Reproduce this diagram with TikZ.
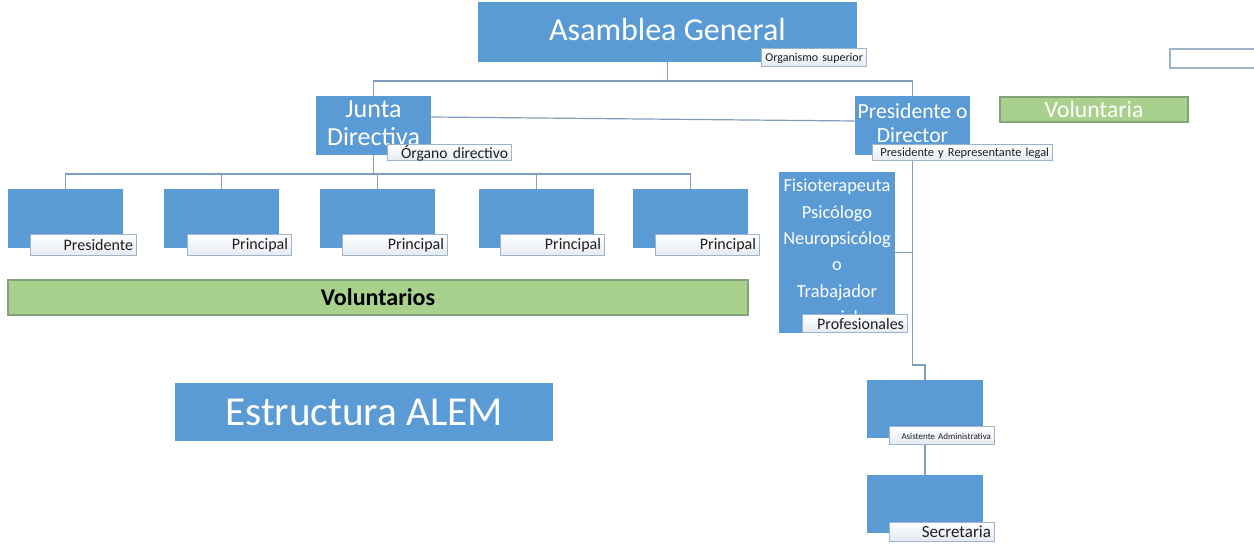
\documentclass[tikz,border=0pt]{standalone}
\usepackage{fontspec}
\setmainfont{Carlito}
\definecolor{boxblue}{HTML}{5B9BD5}
\definecolor{linec}{HTML}{7F9DBE}
\definecolor{labc}{HTML}{9DB4CA}
\definecolor{labb}{HTML}{E4EAF1}
\definecolor{greenf}{HTML}{A9D18E}
\definecolor{greend}{HTML}{84A37A}
\newcommand\mltext[2]{\raisebox{#1}{\begin{tabular}{@{}c@{}}#2\end{tabular}}}
\tikzset{
  bluebox/.style={fill=boxblue, draw=none, inner sep=0pt, text=white, align=center},
  greenbox/.style={fill=greenf, draw=greend, line width=0.6pt, inner sep=0pt},
  lab/.style={draw=labc, line width=0.5pt, top color=white, bottom color=labb,
    inner xsep=1.5pt, inner ysep=0pt, align=right, text=black!88},
  conn/.style={draw=linec, line width=0.6pt},
}
\begin{document}
\begin{tikzpicture}[x=0.5pt,y=-0.5pt]
\useasboundingbox (0,0) rectangle (1254,545);
% ---- blue boxes ----
\node[bluebox, minimum width=189.5pt, minimum height=30pt, font=\fontsize{16}{19}\selectfont] (A) at (667.5,32) {\raisebox{2.5pt}{Asamblea General}};
\node[bluebox, minimum width=57.5pt, minimum height=29.5pt, font=\fontsize{13}{14}\selectfont] (J) at (373.5,125.5) {\mltext{2.2pt}{Junta\\Directiva}};
\node[bluebox, minimum width=57.5pt, minimum height=29.5pt, font=\fontsize{10.8}{12}\selectfont] (P) at (912.5,125.5) {\mltext{2.2pt}{Presidente o\\Director}};
\node[bluebox, minimum width=57.5pt, minimum height=29.5pt] (c1) at (65.5,218.5) {};
\node[bluebox, minimum width=57.5pt, minimum height=29.5pt] (c2) at (221.5,218.5) {};
\node[bluebox, minimum width=57.5pt, minimum height=29.5pt] (c3) at (377.5,218.5) {};
\node[bluebox, minimum width=57.5pt, minimum height=29.5pt] (c4) at (536.5,218.5) {};
\node[bluebox, minimum width=57.5pt, minimum height=29.5pt] (c5) at (690.5,218.5) {};
\node[bluebox, minimum width=58pt, minimum height=80.5pt, font=\fontsize{9.2}{13.2}\selectfont] (Pr) at (837,252.5) {\mltext{1.2pt}{Fisioterapeuta\\Psicólogo\\Neuropsicólog\\o\\Trabajador\\social}};
\node[bluebox, minimum width=58pt, minimum height=29pt] (As) at (925,409) {};
\node[bluebox, minimum width=58pt, minimum height=29pt] (S) at (925,504) {};
\node[bluebox, minimum width=189pt, minimum height=29pt, font=\fontsize{20.6}{24}\selectfont] (E) at (364,412) {Estructura ALEM};
% ---- green boxes ----
\node[greenbox, minimum width=94pt, minimum height=12.5pt, text=white, font=\fontsize{11.8}{13}\selectfont] (V1) at (1094,109.5) {Voluntaria};
\node[greenbox, minimum width=370pt, minimum height=17.5pt, text=black, font=\fontsize{12}{14}\selectfont\bfseries] (V2) at (378,297.5) {Voluntarios};
% ---- empty box top right ----
\node[draw=labc, line width=0.6pt, fill=white, minimum width=44pt, minimum height=9.5pt, inner sep=0pt] (TR) at (1214,58.5) {};
% ---- connectors ----
\coordinate (a1) at (667.5,81);
\draw[conn] (A.south) -- (a1);
\draw[conn] (J.north) |- (a1) -| (P.north);
\draw[conn] ([yshift=4.25pt]J.east) -- ([yshift=2.25pt]P.west);
\coordinate (j1) at (373.5,174);
\draw[conn] (J.south) -- (j1);
\draw[conn] (c1.north) |- (j1) -| (c5.north);
\draw[conn] (c2.north) -- (c2.north |- j1);
\draw[conn] (c3.north) -- (c3.north |- j1);
\draw[conn] (c4.north) -- (c4.north |- j1);
\coordinate (p1) at (912.5,365);
\draw[conn] (P.south) -- (p1) -| (As.north);
\draw[conn] (Pr.east) -- (Pr.east -| p1);
\draw[conn] (As.south) -- (S.north);
% ---- labels ----
\node[lab, text width=49.5pt, minimum height=9pt, font=\fontsize{6}{7}\selectfont] (LA) at (813.5,58) {Organismo superior};
\node[lab, text width=59pt, minimum height=8pt, font=\fontsize{7.8}{9}\selectfont] (LJ) at (449,153) {Órgano directivo};
\node[lab, text width=87pt, minimum height=8pt, font=\fontsize{6.2}{7}\selectfont] (LP) at (962,153) {Presidente y Representante legal};
\node[lab, text width=50pt, minimum height=10.5pt, font=\fontsize{8}{9}\selectfont] (L1) at (83,245.5) {Presidente};
\node[lab, text width=49pt, minimum height=10.5pt, font=\fontsize{8}{9}\selectfont] (L2) at (239,245.5) {Principal};
\node[lab, text width=49.5pt, minimum height=10.5pt, font=\fontsize{8}{9}\selectfont] (L3) at (394.5,245.5) {Principal};
\node[lab, text width=49pt, minimum height=10.5pt, font=\fontsize{8}{9}\selectfont] (L4) at (552,245.5) {Principal};
\node[lab, text width=49pt, minimum height=10.5pt, font=\fontsize{8}{9}\selectfont] (L5) at (707,245.5) {Principal};
\node[lab, text width=49.5pt, minimum height=9pt, font=\fontsize{8}{9}\selectfont] (LPr) at (854.5,324) {Profesionales};
\node[lab, text width=49.5pt, minimum height=9pt, font=\fontsize{4.5}{5}\selectfont] (LAs) at (941.5,436) {Asistente Administrativa};
\node[lab, text width=49.5pt, minimum height=9.5pt, font=\fontsize{8.5}{10}\selectfont] (LS) at (941.5,531.5) {Secretaria};
\end{tikzpicture}
\end{document}
